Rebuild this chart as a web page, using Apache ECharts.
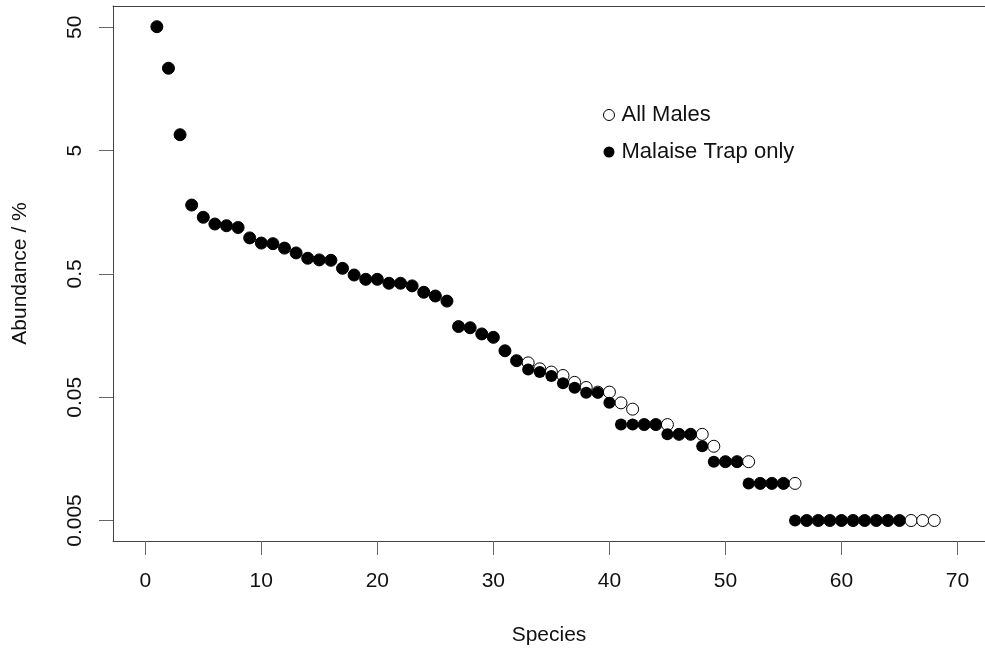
<!DOCTYPE html>
<html lang="en">
<head>
    <meta charset="UTF-8">
    <title>Species abundance</title>
    <script src="https://cdn.jsdelivr.net/npm/echarts@6.0.0/dist/echarts.min.js"></script>
</head>
<style>
    html, body { margin: 0; padding: 0; background: #fff; }
    #chart { width: 985px; height: 651px; }
</style>
<body>
<div id="chart"></div>
<script>
    // abundance (%) by species rank
    var allMales = [50.6, 23.3, 6.73, 1.81, 1.44, 1.27, 1.23, 1.19, 0.98, 0.89,
        0.88, 0.81, 0.74, 0.67, 0.65, 0.645, 0.555, 0.49, 0.452, 0.452,
        0.42, 0.42, 0.40, 0.355, 0.331, 0.301, 0.187, 0.183, 0.163, 0.153,
        0.119, 0.099, 0.095, 0.085, 0.080, 0.075, 0.066, 0.060, 0.055, 0.055,
        0.045, 0.040, 0.030, 0.030, 0.030, 0.025, 0.025, 0.025, 0.020, 0.015,
        0.015, 0.015, 0.010, 0.010, 0.010, 0.010, 0.005, 0.005, 0.005, 0.005,
        0.005, 0.005, 0.005, 0.005, 0.005, 0.005, 0.005, 0.005];
    var malaise = [50.6, 23.3, 6.73, 1.81, 1.44, 1.27, 1.23, 1.19, 0.98, 0.89,
        0.88, 0.81, 0.74, 0.67, 0.65, 0.645, 0.555, 0.49, 0.452, 0.452,
        0.42, 0.42, 0.40, 0.355, 0.331, 0.301, 0.187, 0.183, 0.163, 0.153,
        0.119, 0.099, 0.084, 0.080, 0.0743, 0.065, 0.0597, 0.0544, 0.0544, 0.045,
        0.030, 0.030, 0.030, 0.030, 0.025, 0.025, 0.025, 0.020, 0.015, 0.015,
        0.015, 0.010, 0.010, 0.010, 0.010, 0.005, 0.005, 0.005, 0.005, 0.005,
        0.005, 0.005, 0.005, 0.005, 0.005];
    var xTicks = [0, 10, 20, 30, 40, 50, 60, 70];
    var yTicks = [0.005, 0.05, 0.5, 5, 50];

    function ranked(arr) {
        return arr.map(function (v, i) { return [i + 1, v]; });
    }

    var font = 'Liberation Sans, Arial, Helvetica, sans-serif';
    var frame = { show: true, onZero: false, lineStyle: { color: '#444', width: 1 } };

    var option = {
        animation: false,
        backgroundColor: '#fff',
        // no right edge: the frame runs off the picture there
        grid: { left: 113, top: 6, right: 0, bottom: 110 },
        legend: {
            left: 598, top: 99,
            padding: 5,
            orient: 'vertical',
            itemGap: 15,
            itemWidth: 11, itemHeight: 11,
            textStyle: { fontSize: 22, color: '#111', fontFamily: font, padding: [0, 0, 0, 2] },
            data: [
                { name: 'All Males', icon: 'circle',
                  itemStyle: { color: '#fff', borderColor: '#000', borderWidth: 1 } },
                { name: 'Malaise Trap only', icon: 'circle',
                  itemStyle: { color: '#000' } }
            ]
        },
        xAxis: [{
            type: 'value',
            min: -2.78, max: 72.37,
            name: 'Species',
            nameLocation: 'middle',
            nameGap: 84,
            nameTextStyle: { fontSize: 21, color: '#111', fontFamily: font },
            axisLine: frame,
            axisTick: { show: true, length: 14, lineStyle: { color: '#666' }, customValues: xTicks },
            axisLabel: { fontSize: 21, color: '#111', fontFamily: font, margin: 30, customValues: xTicks },
            splitLine: { show: false }
        }, {
            // top side of the box
            type: 'value',
            position: 'top',
            min: -2.78, max: 72.37,
            axisLine: frame,
            axisTick: { show: false },
            axisLabel: { show: false },
            splitLine: { show: false }
        }],
        yAxis: {
            type: 'log',
            logBase: 10,
            min: 0.00341, max: 74.5,
            name: 'Abundance / %',
            nameLocation: 'middle',
            nameGap: 82,
            nameTextStyle: { fontSize: 21, color: '#111', fontFamily: font },
            axisLine: frame,
            axisTick: { show: true, length: 14, lineStyle: { color: '#666' }, customValues: yTicks },
            axisLabel: {
                fontSize: 21, color: '#111', fontFamily: font, rotate: 90, margin: 27,
                customValues: yTicks,
                formatter: function (v) { return String(+v.toPrecision(3)); }
            },
            splitLine: { show: false },
            minorTick: { show: false }
        },
        series: [
            {
                name: 'All Males',
                type: 'scatter',
                symbol: 'circle',
                symbolSize: 12,
                itemStyle: { color: '#fff', borderColor: '#000', borderWidth: 1, opacity: 1 },
                data: ranked(allMales),
                z: 2
            },
            {
                name: 'Malaise Trap only',
                type: 'scatter',
                symbol: 'circle',
                symbolSize: 12,
                itemStyle: { color: '#000', opacity: 1 },
                data: ranked(malaise),
                z: 3
            }
        ]
    };

    var chart = echarts.init(document.getElementById('chart'));
    chart.setOption(option);
</script>
</body>
</html>
